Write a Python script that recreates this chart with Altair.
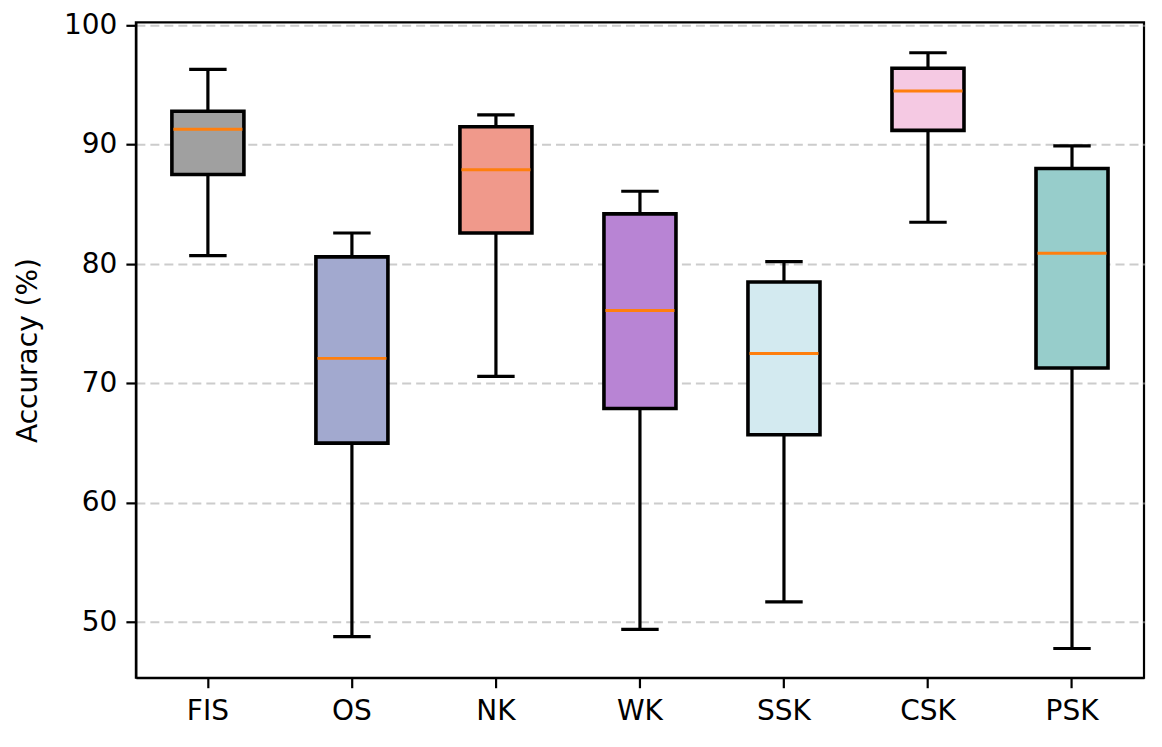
import altair as alt
import pandas as pd

categories = ["FIS", "OS", "NK", "WK", "SSK", "CSK", "PSK"]
whisker_low = [80.7, 48.8, 70.6, 49.4, 51.7, 83.5, 47.8]
q1 = [87.5, 65.0, 82.6, 67.9, 65.7, 91.2, 71.3]
median = [91.3, 72.1, 87.9, 76.1, 72.5, 94.5, 80.9]
q3 = [92.8, 80.6, 91.5, 84.2, 78.5, 96.4, 88.0]
whisker_high = [96.3, 82.6, 92.5, 86.1, 80.2, 97.7, 89.9]
colors = ["#a0a0a0", "#a2a9cf", "#f0998b", "#b884d4", "#d3eaf0", "#f5c9e3", "#97cdcb"]
y_ticks = [50, 60, 70, 80, 90, 100]

df = pd.DataFrame({
    "cat": categories,
    "lo": whisker_low,
    "q1": q1,
    "med": median,
    "q3": q3,
    "hi": whisker_high,
    "color": colors,
})

W = 1009
H = 656
step = W / len(categories)

xscale = alt.Scale(domain=categories, paddingInner=0.5, paddingOuter=0.25)
yscale = alt.Scale(domain=[45.35, 100.25], nice=False, zero=False)

x_enc = alt.X("cat:N", scale=xscale, sort=categories,
              axis=alt.Axis(title=None, labelAngle=0, grid=False))
y_axis = alt.Axis(title="Accuracy (%)", values=y_ticks, grid=True,
                  gridColor="#cccccc", gridDash=[9, 5], gridWidth=2)

base = alt.Chart(df)

whisker_lo = base.mark_rule(color="black", strokeWidth=3.2).encode(
    x=x_enc,
    y=alt.Y("lo:Q", scale=yscale, axis=y_axis),
    y2="q1:Q",
)
whisker_hi = base.mark_rule(color="black", strokeWidth=3.2).encode(
    x=x_enc, y=alt.Y("q3:Q", scale=yscale), y2="hi:Q"
)
cap_lo = base.mark_tick(color="black", size=step * 0.26, thickness=3.2, opacity=1).encode(
    x=x_enc, y=alt.Y("lo:Q", scale=yscale)
)
cap_hi = base.mark_tick(color="black", size=step * 0.26, thickness=3.2, opacity=1).encode(
    x=x_enc, y=alt.Y("hi:Q", scale=yscale)
)
box = base.mark_bar(stroke="black", strokeWidth=3.6, opacity=1).encode(
    x=x_enc,
    y=alt.Y("q1:Q", scale=yscale),
    y2="q3:Q",
    fill=alt.Fill("color:N", scale=None),
)
med = base.mark_tick(color="#ff7f0e", size=step * 0.5 - 3, thickness=3, opacity=1).encode(
    x=x_enc, y=alt.Y("med:Q", scale=yscale)
)

chart = alt.layer(whisker_lo, whisker_hi, cap_lo, cap_hi, box, med).properties(
    width=W,
    height=H,
    autosize=alt.AutoSizeParams(type="none"),
    padding={"left": 128, "top": 14, "right": 10, "bottom": 53},
).configure_view(
    stroke="black", strokeWidth=2.2
).configure_axis(
    labelFont="DejaVu Sans",
    titleFont="DejaVu Sans",
    labelFontSize=28,
    titleFontSize=28,
    titleFontWeight="normal",
    labelColor="black",
    titleColor="black",
    domainColor="black",
    domainWidth=2.2,
    tickColor="black",
    tickWidth=2.2,
    tickSize=10,
    labelPadding=10,
).configure_axisY(
    titlePadding=21,
    labelPadding=9,
)

chart.save("out.html", embed_options={"renderer": "svg", "actions": False})
